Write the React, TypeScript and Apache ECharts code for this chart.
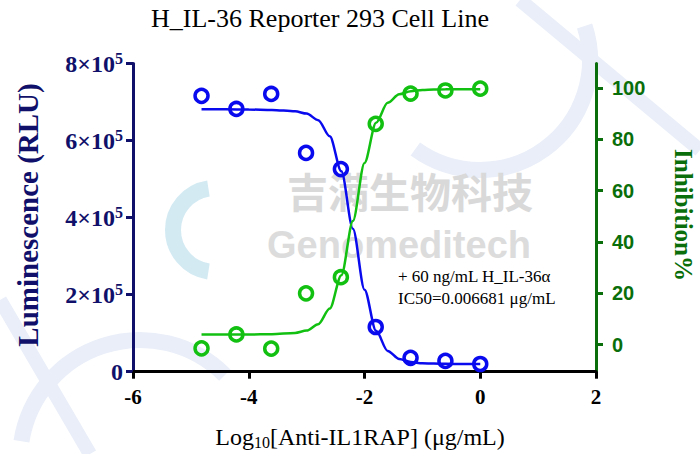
import React, { useEffect, useRef } from "react";
import * as echarts from "echarts";

const doseLog = [-4.816, -4.214, -3.612, -3.01, -2.408, -1.806, -1.204, -0.602, 0];
const luminescence = [716000, 682000, 721000, 568000, 526000, 116000, 36000, 28000, 20000];
const inhibition = [-1.4, 4.0, -1.5, 20.0, 26.3, 86.0, 97.8, 99.0, 99.7];

const curveX = [-4.816, -4.4, -4.0, -3.6, -3.2, -3.0, -2.8, -2.6, -2.4, -2.2, -2.0, -1.8, -1.6, -1.4, -1.2, -1.0, -0.8, -0.6, -0.3, 0];
const lumiCurve = [681000, 681000, 680500, 679500, 676000, 670000, 653000, 611000, 520000, 371000, 213000, 106000, 54000, 33000, 25000, 22000, 21000, 20500, 20000, 20000];
const inhibCurve = [4.0, 4.0, 4.0, 4.1, 4.6, 5.5, 8.0, 14.1, 27.1, 48.2, 70.8, 86.4, 94.2, 97.5, 98.7, 99.2, 99.4, 99.45, 99.5, 99.5];

const xTicks = [-6, -4, -2, 0, 2];
const rightTicks = [0, 20, 40, 60, 80, 100];

const SERIF = '"Liberation Serif", "Times New Roman", serif';
const SANS = '"Liberation Sans", Arial, sans-serif';
const NAVY = "#10106a";
const GREEN = "#0a6e0a";
const BLUE = "#0a0aee";
const LGREEN = "#12c012";
const WM = "#e9eef8";

export default function App() {
  const ref = useRef<HTMLDivElement>(null);
  useEffect(() => {
    if (!ref.current) return;
    const chart = echarts.init(ref.current, null, { renderer: "svg" });
    const zip = (xs: number[], ys: number[]) => xs.map((x, i) => [x, ys[i]]);
    chart.setOption({
      animation: false,
      backgroundColor: "#ffffff",
      grid: { left: 133, right: 104, top: 63.5, bottom: 82.3, containLabel: false },
      xAxis: {
        type: "value",
        min: -6,
        max: 2,
        interval: 2,
        axisLine: { onZero: false, lineStyle: { color: "#000", width: 3 } },
        axisTick: { length: 7, lineStyle: { color: "#000", width: 3 }, customValues: xTicks },
        axisLabel: {
          customValues: xTicks,
          color: "#000",
          fontFamily: SERIF,
          fontWeight: "bold",
          fontSize: 21,
          margin: 15,
        },
        splitLine: { show: false },
      },
      yAxis: [
        {
          type: "value",
          min: 0,
          max: 800000,
          interval: 200000,
          position: "left",
          axisLine: { show: true, onZero: false, lineStyle: { color: NAVY, width: 3 } },
          axisTick: { show: true, length: 7, lineStyle: { color: NAVY, width: 3 } },
          axisLabel: {
            margin: 10,
            formatter: (v: number) => (v === 0 ? "{b|0}" : `{b|${v / 100000}×10}{s|5}`),
            rich: {
              b: { fontFamily: SERIF, fontWeight: "bold", fontSize: 24, color: NAVY },
              s: { fontFamily: SERIF, fontWeight: "bold", fontSize: 16, color: NAVY, verticalAlign: "top", padding: [0, 0, 10, 0] },
            },
          },
          splitLine: { show: false },
        },
        {
          type: "value",
          min: -10.5,
          max: 109.5,
          position: "right",
          axisLine: { show: true, onZero: false, lineStyle: { color: GREEN, width: 3 } },
          axisTick: { show: true, length: 7, lineStyle: { color: GREEN, width: 3 }, customValues: rightTicks },
          axisLabel: {
            customValues: rightTicks,
            margin: 16,
            color: GREEN,
            fontFamily: SANS,
            fontWeight: "bold",
            fontSize: 20,
          },
          splitLine: { show: false },
        },
      ],
      graphic: [
        { type: "arc", silent: true, z: 0, shape: { cx: 140, cy: 460, r: 120, startAngle: Math.PI * 1.05, endAngle: Math.PI * 1.75 }, style: { stroke: WM, lineWidth: 16, fill: "none" } },
        { type: "arc", silent: true, z: 0, shape: { cx: 480, cy: 60, r: 110, startAngle: -Math.PI * 0.1, endAngle: Math.PI * 0.7 }, style: { stroke: WM, lineWidth: 16, fill: "none" } },
        { type: "line", silent: true, z: 0, shape: { x1: 520, y1: 0, x2: 700, y2: 150 }, style: { stroke: WM, lineWidth: 14 } },
        { type: "line", silent: true, z: 0, shape: { x1: 0, y1: 300, x2: 90, y2: 454 }, style: { stroke: WM, lineWidth: 14 } },
        { type: "arc", silent: true, z: 0, shape: { cx: 215, cy: 230, r: 42, startAngle: Math.PI * 0.55, endAngle: Math.PI * 1.45 }, style: { stroke: "#d3eaf3", lineWidth: 16, fill: "none" } },
        { type: "text", z: 0, silent: true, x: 410, y: 190, style: { text: "吉满生物科技", font: 'bold 41px "Noto Sans CJK SC"', fill: "#d9d9d9", textAlign: "center", textVerticalAlign: "middle" } },
        { type: "text", z: 0, silent: true, x: 399, y: 245, style: { text: "Genomeditech", font: 'bold 38px "Liberation Sans"', fill: "#dcdcdc", textAlign: "center", textVerticalAlign: "middle" } },
        { type: "text", x: 320, y: 18, style: { text: "H_IL-36 Reporter 293 Cell Line", font: `26px ${SERIF}`, fill: "#000", textAlign: "center", textVerticalAlign: "middle" } },
        { type: "text", x: 28, y: 215, rotation: Math.PI / 2, style: { text: "Luminescence (RLU)", font: `bold 29px ${SERIF}`, fill: NAVY, textAlign: "center", textVerticalAlign: "middle" } },
        { type: "text", x: 683, y: 215, rotation: -Math.PI / 2, style: { text: "Inhibition%", font: `bold 25px ${SERIF}`, fill: GREEN, textAlign: "center", textVerticalAlign: "middle" } },
        {
          type: "text",
          x: 360,
          y: 437,
          style: {
            text: "{a|Log}{sub|10}{a|[Anti-IL1RAP] (μg/mL)}",
            textAlign: "center",
            textVerticalAlign: "middle",
            rich: {
              a: { fontFamily: SERIF, fontSize: 24, fill: "#000" },
              sub: { fontFamily: SERIF, fontSize: 16, fill: "#000", verticalAlign: "bottom", padding: [10, 0, 0, 0] },
            },
          },
        },
        { type: "text", x: 398, y: 276, style: { text: "+ 60 ng/mL H_IL-36α", font: `17px ${SERIF}`, fill: "#000", textVerticalAlign: "middle" } },
        { type: "text", x: 398, y: 298, style: { text: "IC50=0.006681 μg/mL", font: `17px ${SERIF}`, fill: "#000", textVerticalAlign: "middle" } },
      ],
      series: [
        {
          type: "line",
          yAxisIndex: 0,
          data: zip(curveX, lumiCurve),
          showSymbol: false,
          smooth: 0.3,
          smoothMonotone: "x",
          lineStyle: { color: BLUE, width: 2.5 },
          z: 3,
        },
        {
          type: "line",
          yAxisIndex: 1,
          data: zip(curveX, inhibCurve),
          showSymbol: false,
          smooth: 0.3,
          smoothMonotone: "x",
          lineStyle: { color: LGREEN, width: 2.5 },
          z: 3,
        },
        {
          type: "scatter",
          yAxisIndex: 0,
          data: zip(doseLog, luminescence),
          symbol: "circle",
          symbolSize: 13,
          itemStyle: { color: "rgba(0,0,0,0)", borderColor: BLUE, borderWidth: 3.5, opacity: 1 },
          z: 4,
        },
        {
          type: "scatter",
          yAxisIndex: 1,
          data: zip(doseLog, inhibition),
          symbol: "circle",
          symbolSize: 13,
          itemStyle: { color: "rgba(0,0,0,0)", borderColor: LGREEN, borderWidth: 3.5, opacity: 1 },
          z: 4,
        },
      ],
    });
    return () => chart.dispose();
  }, []);
  return <div ref={ref} style={{ position: "fixed", left: 0, top: 0, width: 700, height: 454 }} />;
}
